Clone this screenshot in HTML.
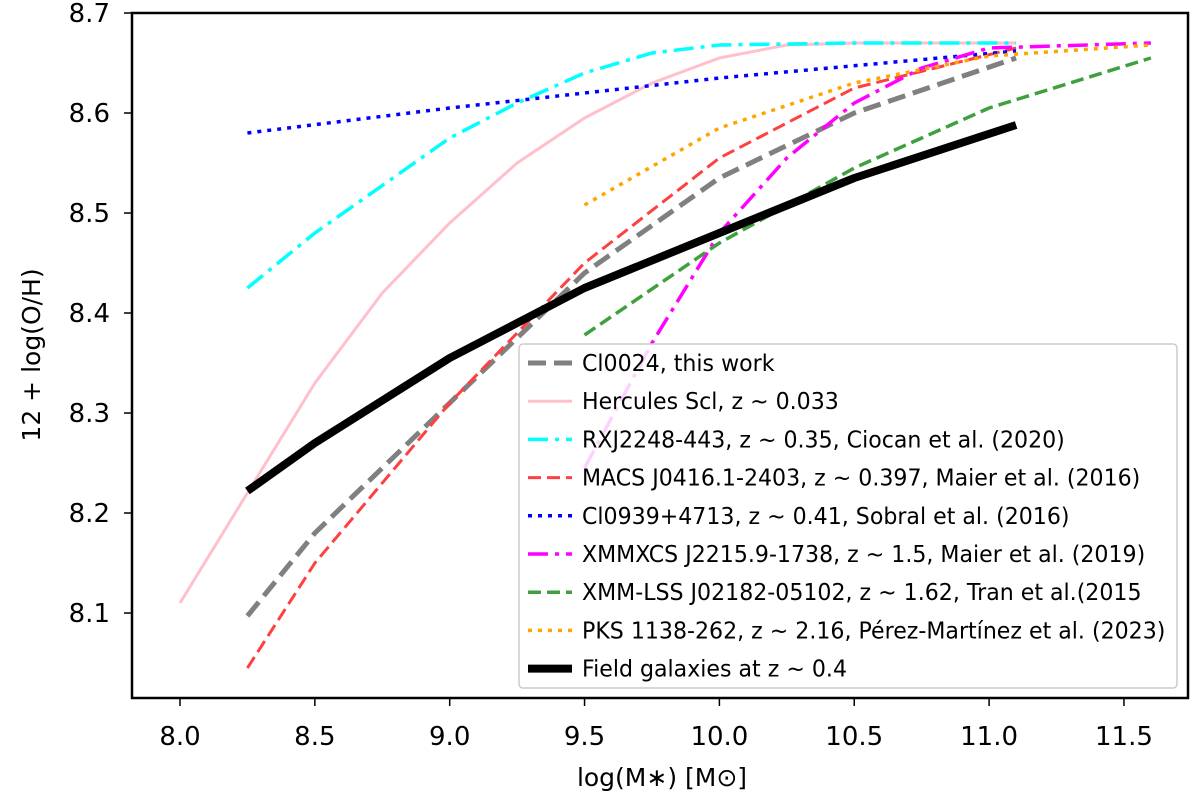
<!DOCTYPE html>
<html><head><meta charset="utf-8"><style>
html,body{margin:0;padding:0;background:#fff;}
svg{display:block;font-family:"DejaVu Sans","Liberation Sans",sans-serif;}
</style></head><body>
<svg id="chart" width="1200" height="798" viewBox="0 0 1200 798">
<g id="series"></g>
<g id="axes"></g>
<g id="legend"></g>
</svg>
<script>
const xTicks = [8.0, 8.5, 9.0, 9.5, 10.0, 10.5, 11.0, 11.5];
const xTickLabels = ["8.0","8.5","9.0","9.5","10.0","10.5","11.0","11.5"];
const yTicks = [8.1, 8.2, 8.3, 8.4, 8.5, 8.6, 8.7];
const yTickLabels = ["8.1","8.2","8.3","8.4","8.5","8.6","8.7"];

const cl0024X = [8.25, 8.5, 9.0, 9.5, 10.0, 10.5, 11.1];
const cl0024Y = [8.097, 8.18, 8.31, 8.44, 8.535, 8.60, 8.655];
const herculesX = [8.0, 8.25, 8.5, 8.75, 9.0, 9.25, 9.5, 9.75, 10.0, 10.25, 10.5, 11.1];
const herculesY = [8.11, 8.22, 8.33, 8.42, 8.49, 8.55, 8.595, 8.63, 8.655, 8.668, 8.67, 8.67];
const rxjX = [8.25, 8.5, 9.0, 9.25, 9.5, 9.75, 10.0, 10.5, 11.1];
const rxjY = [8.425, 8.48, 8.575, 8.61, 8.64, 8.66, 8.668, 8.67, 8.67];
const macsX = [8.25, 8.5, 9.0, 9.5, 10.0, 10.5, 11.1];
const macsY = [8.045, 8.15, 8.31, 8.45, 8.555, 8.625, 8.665];
const cl0939X = [8.25, 9.0, 10.0, 11.1];
const cl0939Y = [8.58, 8.605, 8.635, 8.662];
const xmmxcsX = [9.5, 9.75, 10.0, 10.25, 10.5, 10.75, 11.0, 11.6];
const xmmxcsY = [8.245, 8.37, 8.48, 8.555, 8.61, 8.645, 8.665, 8.67];
const xmmlssX = [9.5, 10.0, 10.5, 11.0, 11.6];
const xmmlssY = [8.378, 8.47, 8.545, 8.605, 8.655];
const pksX = [9.5, 10.0, 10.5, 11.0, 11.6];
const pksY = [8.508, 8.585, 8.63, 8.657, 8.668];
const fieldX = [8.25, 8.5, 9.0, 9.5, 10.0, 10.5, 11.1];
const fieldY = [8.222, 8.27, 8.355, 8.425, 8.48, 8.535, 8.588];

const legendLabels = [
 "Cl0024, this work",
 "Hercules Scl, z ~ 0.033",
 "RXJ2248-443, z ~ 0.35, Ciocan et al. (2020)",
 "MACS J0416.1-2403, z ~ 0.397, Maier et al. (2016)",
 "Cl0939+4713, z ~ 0.41, Sobral et al. (2016)",
 "XMMXCS J2215.9-1738, z ~ 1.5, Maier et al. (2019)",
 "XMM-LSS J02182-05102, z ~ 1.62, Tran et al.(2015",
 "PKS 1138-262, z ~ 2.16, Pérez-Martínez et al. (2023)",
 "Field galaxies at z ~ 0.4"
];

const PL = 132, PR = 1188, PT = 13, PB = 698;
function xs(v){ return 180 + (v - 8.0) * 269.7; }
function ys(v){ return 613 - (v - 8.1) * 1000; }
const NS = "http://www.w3.org/2000/svg";
function mk(tag, attrs, parent){
  const e = document.createElementNS(NS, tag);
  for (const k in attrs) e.setAttribute(k, attrs[k]);
  parent.appendChild(e); return e;
}

const styles = [
 {x: cl0024X, y: cl0024Y, c: "#808080", w: 5, d: "18,8", name: "cl0024-line"},
 {x: herculesX, y: herculesY, c: "#ffc0cb", w: 3, d: "", name: "hercules-line"},
 {x: rxjX, y: rxjY, c: "#00ffff", w: 3.5, d: "20,7,4,7", name: "rxj2248-line"},
 {x: macsX, y: macsY, c: "#ff4040", w: 3, d: "13,6", name: "macs-j0416-line"},
 {x: cl0939X, y: cl0939Y, c: "#0000ff", w: 3.5, d: "4,6", name: "cl0939-line"},
 {x: xmmxcsX, y: xmmxcsY, c: "#ff00ff", w: 3.5, d: "20,7,4,7", name: "xmmxcs-j2215-line"},
 {x: xmmlssX, y: xmmlssY, c: "#3fa03f", w: 3.5, d: "13,6", name: "xmm-lss-line"},
 {x: pksX, y: pksY, c: "#ffa500", w: 3.5, d: "4,6", name: "pks1138-line"},
 {x: fieldX, y: fieldY, c: "#000000", w: 8, d: "", name: "field-galaxies-line"}
];

const sg = document.getElementById("series");
styles.forEach(s => {
  const pts = s.x.map((v, i) => xs(v).toFixed(1) + "," + ys(s.y[i]).toFixed(1)).join(" ");
  const a = {points: pts, fill: "none", stroke: s.c, "stroke-width": s.w, "stroke-linejoin": "round"};
  if (s.d) a["stroke-dasharray"] = s.d;
  const p = mk("polyline", a, sg);
  
  
});

const ax = document.getElementById("axes");
const frame = mk("rect", {x: PL, y: PT, width: PR - PL, height: PB - PT, fill: "none", stroke: "#000", "stroke-width": 2.5}, ax);


xTicks.forEach((v, i) => {
  const x = xs(v);
  const t = mk("line", {x1: x, x2: x, y1: PB, y2: PB + 8, stroke: "#000", "stroke-width": 1.5}, ax);
  
  
  const l = mk("text", {x: x, y: 745, "text-anchor": "middle", "font-size": 26, fill: "#000"}, ax);
  l.textContent = xTickLabels[i];
  
  
});
yTicks.forEach((v, i) => {
  const y = ys(v);
  const t = mk("line", {x1: PL - 8, x2: PL, y1: y, y2: y, stroke: "#000", "stroke-width": 1.5}, ax);
  
  
  const l = mk("text", {x: 110, y: y + 9, "text-anchor": "end", "font-size": 26, fill: "#000"}, ax);
  l.textContent = yTickLabels[i];
  
  
});
const xt = mk("text", {x: 662, y: 786, "text-anchor": "middle", "font-size": 25, fill: "#000"}, ax);
xt.textContent = "log(M\u2217) [M\u2299]";


const yt = mk("text", {x: 0, y: 0, "text-anchor": "middle", "font-size": 25, fill: "#000", transform: "translate(40,355) rotate(-90)"}, ax);
yt.textContent = "12 + log(O/H)";



const lg = document.getElementById("legend");
const box = mk("rect", {x: 519, y: 344, width: 658, height: 344, rx: 4, fill: "#fff", "fill-opacity": 0.82, stroke: "#cccccc", "stroke-width": 1.5}, lg);


styles.forEach((s, i) => {
  const y = 363 + i * 38.2;
  const a = {x1: 528, x2: 572, y1: y, y2: y, stroke: s.c, "stroke-width": s.w};
  if (s.d) a["stroke-dasharray"] = s.d;
  const h = mk("line", a, lg);
  
  
  const t = mk("text", {x: 582, y: y + 8, "font-size": 23, fill: "#000"}, lg);
  t.textContent = legendLabels[i];
  
  
  const w = t.getComputedTextLength();
  if (w > 0) {
    t.setAttribute("textLength", (w * 0.96).toFixed(1));
    t.setAttribute("lengthAdjust", "spacingAndGlyphs");
  }
});
</script>
</body></html>
